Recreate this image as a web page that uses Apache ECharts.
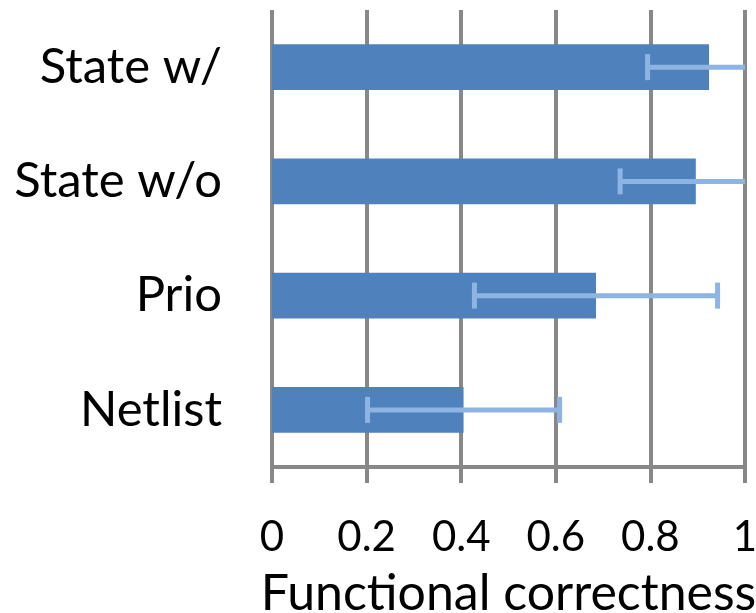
<!DOCTYPE html>
<html>
<head>
<meta charset="utf-8">
<script src="https://cdn.jsdelivr.net/npm/echarts@6/dist/echarts.min.js"></script>
<style>
  html, body { margin: 0; padding: 0; background: #fff; }
  #chart { width: 756px; height: 613px; }
</style>
</head>
<body>
<div id="chart"></div>
<script>
// Variants, listed top to bottom
const categories = ['State w/', 'State w/o', 'Prio', 'Netlist'];
// Mean functional correctness per variant
const values = [0.924, 0.896, 0.685, 0.405];
// Half-width of the error bar (symmetric) per variant
const errors = [0.13, 0.16, 0.257, 0.203];
// Value axis ticks
const tickValues = [0, 0.2, 0.4, 0.6, 0.8, 1];

const GRAY = '#888888';
const BAR = '#4F81BD';
const ERR = '#8DB4E2';
const FONT = 'Lato';

const errData = categories.map((c, i) => [i, values[i] - errors[i], values[i] + errors[i]]);

const chart = echarts.init(document.getElementById('chart'), null, { renderer: 'canvas' });

chart.setOption({
  animation: false,
  backgroundColor: '#ffffff',
  grid: {
    left: 272, right: 11, top: 10, bottom: 146,
    containLabel: false,
    outerBoundsMode: 'none'
  },
  xAxis: {
    type: 'value',
    min: tickValues[0],
    max: tickValues[tickValues.length - 1],
    interval: 0.2,
    name: 'Functional correctness',
    nameLocation: 'middle',
    nameGap: 102,
    nameTextStyle: { fontFamily: FONT, fontSize: 50, color: '#000' },
    axisLine: { show: true, lineStyle: { color: GRAY, width: 4 } },
    axisTick: { show: true, length: 16, lineStyle: { color: GRAY, width: 4 } },
    splitLine: { show: true, lineStyle: { color: GRAY, width: 4 } },
    axisLabel: {
      margin: 49,
      fontFamily: FONT,
      fontSize: 42,
      color: '#000',
      hideOverlap: false,
      formatter: v => String(Math.round(v * 10) / 10)
    }
  },
  yAxis: {
    type: 'category',
    data: categories,
    inverse: true,
    axisLine: { show: false },
    axisTick: { show: false },
    splitLine: { show: false },
    axisLabel: {
      margin: 50,
      fontFamily: FONT,
      fontSize: 49,
      color: '#000'
    }
  },
  series: [
    {
      type: 'bar',
      data: values,
      barWidth: '40%',
      itemStyle: { color: BAR },
      z: 2
    },
    {
      type: 'custom',
      data: errData,
      clip: true,
      z: 3,
      encode: { x: [1, 2], y: 0 },
      renderItem: function (params, api) {
        const idx = api.value(0);
        const lo = api.coord([api.value(1), idx]);
        const hi = api.coord([api.value(2), idx]);
        const cap = 13;
        const style = { stroke: ERR, lineWidth: 5, fill: null };
        return {
          type: 'group',
          children: [
            { type: 'line', shape: { x1: lo[0], y1: lo[1], x2: hi[0], y2: hi[1] }, style },
            { type: 'line', shape: { x1: lo[0], y1: lo[1] - cap, x2: lo[0], y2: lo[1] + cap }, style },
            { type: 'line', shape: { x1: hi[0], y1: hi[1] - cap, x2: hi[0], y2: hi[1] + cap }, style }
          ]
        };
      }
    }
  ]
});
</script>
</body>
</html>
